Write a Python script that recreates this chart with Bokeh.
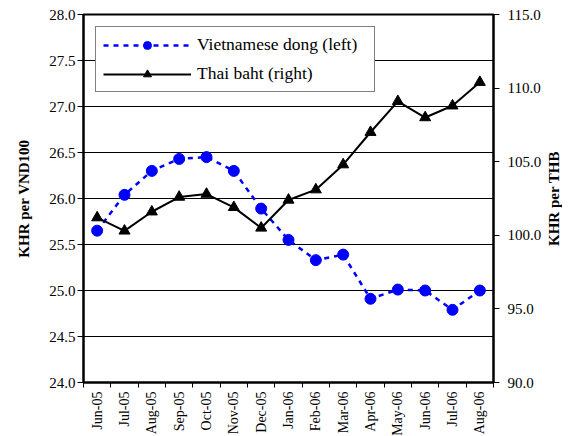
import math
from bokeh.plotting import figure
from bokeh.layouts import row
from bokeh.models import (Range1d, LinearAxis, FixedTicker, NumeralTickFormatter,
                          Legend, LegendItem, Label)
from bokeh.embed import file_html
from bokeh.resources import INLINE

months = ["Jun-05", "Jul-05", "Aug-05", "Sep-05", "Oct-05", "Nov-05", "Dec-05",
          "Jan-06", "Feb-06", "Mar-06", "Apr-06", "May-06", "Jun-06", "Jul-06", "Aug-06"]
vnd = [25.65, 26.04, 26.30, 26.43, 26.45, 26.30, 25.89, 25.55, 25.33, 25.39,
       24.91, 25.01, 25.00, 24.79, 25.00]
thb = [101.2, 100.3, 101.6, 102.6, 102.8, 101.9, 100.5, 102.4, 103.1, 104.8,
       107.0, 109.1, 108.0, 108.8, 110.4]
left_ticks = [24.0, 24.5, 25.0, 25.5, 26.0, 26.5, 27.0, 27.5, 28.0]
right_ticks = [90.0, 95.0, 100.0, 105.0, 110.0, 115.0]

FONT = "'Liberation Serif', serif"
idx = list(range(len(months)))

p = figure(frame_width=410, frame_height=368,
           output_backend="svg", toolbar_location=None,
           x_range=Range1d(-0.5, len(months) - 0.5), y_range=Range1d(24, 28),
           min_border_left=83, min_border_right=50, min_border_top=14, min_border_bottom=40,
           background_fill_color="white", border_fill_color="white")
p.extra_y_ranges = {"thb": Range1d(90, 115)}

p.outline_line_color = "black"
p.outline_line_width = 2
p.xgrid.visible = False
p.ygrid.ticker = FixedTicker(ticks=left_ticks)
p.ygrid.grid_line_color = "black"
p.ygrid.grid_line_width = 1

# x axis
xa = p.xaxis[0]
xa.ticker = FixedTicker(ticks=idx, minor_ticks=[i - 0.5 for i in range(len(months) + 1)])
xa.major_label_overrides = {i: m for i, m in zip(idx, months)}
xa.major_label_orientation = math.pi / 2
xa.major_tick_line_color = None
xa.minor_tick_out = 5
xa.minor_tick_in = 0
xa.minor_tick_line_color = "black"
xa.axis_line_color = "black"
xa.axis_line_width = 2
xa.major_label_text_font = FONT
xa.major_label_text_font_size = "14px"
xa.major_label_text_color = "black"
xa.major_label_standoff = 3

# left axis
ya = p.yaxis[0]
ya.ticker = FixedTicker(ticks=left_ticks)
ya.formatter = NumeralTickFormatter(format="0.0")
ya.axis_label = "KHR per VND100"
ya.axis_label_text_font = FONT
ya.axis_label_text_font_style = "bold"
ya.axis_label_text_font_size = "15px"
ya.axis_label_text_color = "black"
ya.axis_label_standoff = 14
ya.major_label_text_font = FONT
ya.major_label_text_font_size = "15px"
ya.major_label_text_color = "black"
ya.major_tick_out = 6
ya.major_tick_in = 0
ya.major_tick_line_color = "black"
ya.minor_tick_line_color = None
ya.axis_line_color = "black"
ya.axis_line_width = 2
ya.major_label_standoff = 2

# right axis (its title is drawn in a narrow strip so that it reads bottom-to-top)
ra = LinearAxis(y_range_name="thb", ticker=FixedTicker(ticks=right_ticks),
                formatter=NumeralTickFormatter(format="0.0"))
ra.major_label_text_font = FONT
ra.major_label_text_font_size = "15px"
ra.major_label_text_color = "black"
ra.major_tick_out = 6
ra.major_tick_in = 0
ra.major_tick_line_color = "black"
ra.minor_tick_line_color = None
ra.axis_line_color = "black"
ra.axis_line_width = 2
ra.major_label_standoff = 8
p.add_layout(ra, "right")

# series
vl = p.line(idx, vnd, line_color="#0000FF", line_width=2.5, line_dash="5 5")
vm = p.scatter(idx, vnd, marker="circle", size=11, fill_color="#0000FF", line_color="#0000FF")
tl = p.line(idx, thb, y_range_name="thb", line_color="black", line_width=2)
tm = p.scatter(idx, thb, y_range_name="thb", marker="triangle", size=11,
               fill_color="black", line_color="black")

legend = Legend(items=[LegendItem(label="Vietnamese dong (left)", renderers=[vl, vm]),
                       LegendItem(label="Thai baht (right)", renderers=[tl, tm])],
                location="top_left", margin=12, glyph_width=88, glyph_height=20,
                spacing=8, padding=7, label_standoff=6, label_width=170,
                label_text_font=FONT, label_text_font_size="17.5px",
                label_text_color="black",
                border_line_color="black", border_line_width=1,
                background_fill_color="white", background_fill_alpha=1)
p.add_layout(legend)

# strip holding the right-hand axis title
p2 = figure(frame_width=18, frame_height=368, output_backend="svg", toolbar_location=None,
            x_range=Range1d(0, 1), y_range=Range1d(0, 1),
            x_axis_type=None, y_axis_type=None,
            min_border_left=0, min_border_right=0, min_border_top=14, min_border_bottom=40,
            background_fill_color="white", border_fill_color="white")
p2.outline_line_color = None
p2.grid.visible = False
p2.add_layout(Label(x=0.5, y=0.5, text="KHR per THB", angle=math.pi / 2,
                    text_align="center", text_baseline="middle",
                    text_font=FONT, text_font_style="bold", text_font_size="15px",
                    text_color="black"))

layout = row(p, p2, spacing=0)
open("out.html", "w").write(file_html(layout, INLINE))
